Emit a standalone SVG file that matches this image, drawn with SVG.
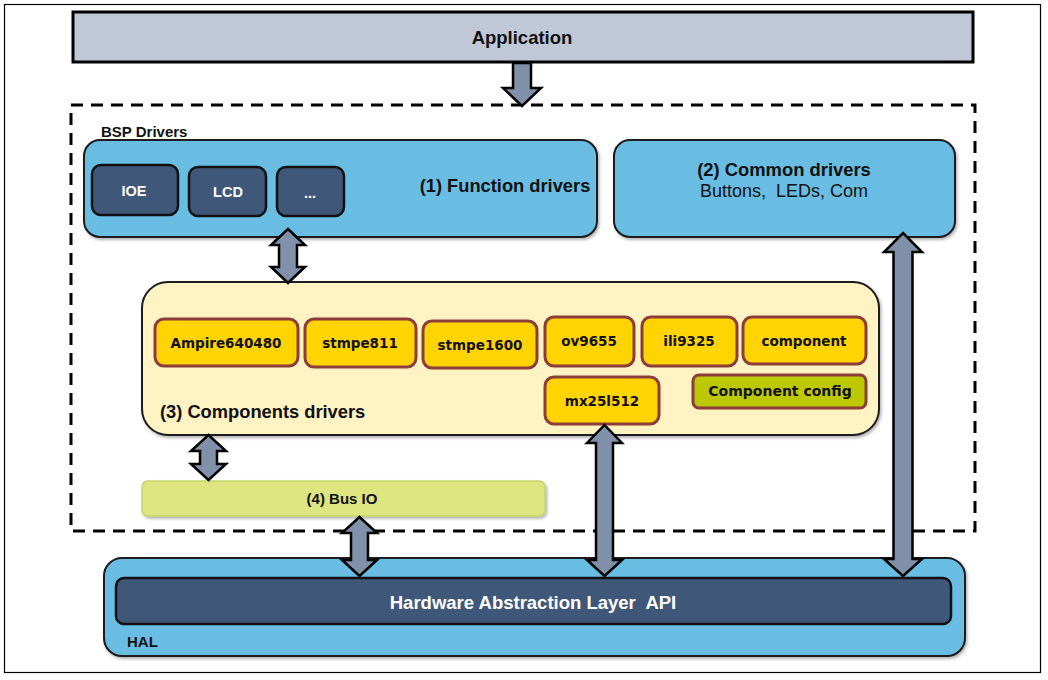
<svg xmlns="http://www.w3.org/2000/svg" width="1048" height="680" viewBox="0 0 1048 680">
<defs>
<filter id="sh" x="-5%" y="-5%" width="110%" height="120%">
<feDropShadow dx="1.5" dy="2" stdDeviation="1.5" flood-color="#000" flood-opacity="0.3"/>
</filter>
</defs>
<style>
.t{font-family:"Liberation Sans",Arial,sans-serif;font-weight:bold;fill:#111}
.w{font-family:"Liberation Sans",Arial,sans-serif;font-weight:bold;fill:#fff}
.c{font-family:"DejaVu Sans",Verdana,sans-serif;font-weight:bold;font-size:13.5px;fill:#111;text-anchor:middle}
.blue{fill:#69bde3;stroke:#1a1a1a;stroke-width:2}
.navy{fill:#3f5879;stroke:#111;stroke-width:2.5}
.chip{fill:#ffd400;stroke:#8c3c3a;stroke-width:3}
.arr{fill:#8090a9;stroke:#000;stroke-width:2.5;stroke-linejoin:miter}
</style>
<rect x="0" y="0" width="1048" height="680" fill="#fff"/>
<rect x="4.5" y="4.5" width="1036" height="668" fill="none" stroke="#000" stroke-width="1.2"/>

<g id="application">
<rect x="73" y="12" width="900" height="50" fill="#c0c7d6" stroke="#000" stroke-width="3"/>
<text class="t" x="522" y="44" font-size="18.5" text-anchor="middle">Application</text>
</g>

<g id="bsp-drivers">
<rect x="71" y="105" width="904" height="426" fill="none" stroke="#000" stroke-width="3" stroke-dasharray="12,8"/>
<text class="t" x="101" y="137" font-size="15">BSP Drivers</text>
</g>

<g id="function-drivers">
<rect class="blue" x="84" y="140" width="513" height="97" rx="16" filter="url(#sh)"/>
<text class="t" x="505" y="192" font-size="18.3" text-anchor="middle">(1) Function drivers</text>
</g>
<g id="ioe">
<rect class="navy" x="92" y="165" width="86" height="50" rx="9"/>
<text class="w" x="134" y="196" font-size="14.5" text-anchor="middle">IOE</text>
</g>
<g id="lcd">
<rect class="navy" x="189" y="167" width="77" height="49" rx="9"/>
<text class="w" x="228" y="197" font-size="14.5" text-anchor="middle">LCD</text>
</g>
<g id="more">
<rect class="navy" x="277" y="167" width="67" height="49" rx="9"/>
<text class="w" x="310" y="198" font-size="14.5" text-anchor="middle">...</text>
</g>

<g id="common-drivers">
<rect class="blue" x="614" y="140" width="341" height="97" rx="16" filter="url(#sh)"/>
<text class="t" x="784" y="176" font-size="18.4" text-anchor="middle">(2) Common drivers</text>
<text x="784" y="197" font-size="18" text-anchor="middle" font-family="Liberation Sans,Arial,sans-serif" fill="#111" xml:space="preserve">Buttons,  LEDs, Com</text>
</g>

<g id="components-drivers">
<rect x="142" y="282" width="737" height="153" rx="26" fill="#fff2c3" stroke="#1a1a1a" stroke-width="2" filter="url(#sh)"/>
<text class="t" x="160" y="418" font-size="18.3">(3) Components drivers</text>
</g>
<g id="ampire640480">
<rect class="chip" x="155" y="319" width="143" height="47" rx="9"/>
<text class="c" x="226" y="348">Ampire640480</text>
</g>
<g id="stmpe811">
<rect class="chip" x="305" y="319" width="111" height="48" rx="9"/>
<text class="c" x="360" y="348">stmpe811</text>
</g>
<g id="stmpe1600">
<rect class="chip" x="423" y="321" width="114" height="47" rx="9"/>
<text class="c" x="480" y="350">stmpe1600</text>
</g>
<g id="ov9655">
<rect class="chip" x="545" y="317" width="89" height="49" rx="9"/>
<text class="c" x="589" y="346">ov9655</text>
</g>
<g id="ili9325">
<rect class="chip" x="642" y="317" width="95" height="49" rx="9"/>
<text class="c" x="689" y="346">ili9325</text>
</g>
<g id="component">
<rect class="chip" x="743" y="317" width="123" height="47" rx="9"/>
<text class="c" x="804" y="346">component</text>
</g>
<g id="mx25l512">
<rect class="chip" x="545" y="377" width="114" height="47" rx="9"/>
<text class="c" x="602" y="406">mx25l512</text>
</g>
<g id="component-config">
<rect x="693" y="375" width="173" height="33" rx="6" fill="#bdc900" stroke="#8c3c3a" stroke-width="3"/>
<text class="c" x="780" y="396" style="font-size:14px">Component config</text>
</g>

<g id="bus-io">
<rect x="142" y="481" width="403" height="35" rx="6" fill="#dde580" stroke="#c6d36b" stroke-width="1.5" filter="url(#sh)"/>
<text class="t" x="342" y="504" font-size="15" text-anchor="middle">(4) Bus IO</text>
</g>

<g id="hal">
<rect class="blue" x="104" y="558" width="861" height="98" rx="18" filter="url(#sh)"/>
<rect class="navy" x="116" y="578" width="835" height="46" rx="8" stroke-width="3"/>
<text class="w" x="533" y="609" font-size="18.5" text-anchor="middle" xml:space="preserve">Hardware Abstraction Layer  API</text>
<text class="t" x="127" y="647" font-size="15">HAL</text>
</g>

<g id="connectors">
<path class="arr" d="M513,63 L531,63 L531,88 L541,88 L522,106 L503,88 L513,88 Z"/>
<path class="arr" d="M288,229 L305,245 L297,245 L297,267 L305,267 L288,283 L271,267 L279,267 L279,245 L271,245 Z"/>
<path class="arr" d="M208.5,435 L226,451 L217,451 L217,464 L226,464 L208.5,480 L191,464 L200,464 L200,451 L191,451 Z"/>
<path class="arr" d="M359.5,517 L377,533 L368,533 L368,560 L377,560 L359.5,576 L342,560 L351,560 L351,533 L342,533 Z"/>
<path class="arr" d="M604.5,425 L622,443 L613,443 L613,560 L622,560 L604.5,576 L587,560 L596,560 L596,443 L587,443 Z"/>
<path class="arr" d="M903,233 L922,252 L912.5,252 L912.5,559 L922,559 L903,576 L884,559 L893.5,559 L893.5,252 L884,252 Z"/>
</g>
</svg>
